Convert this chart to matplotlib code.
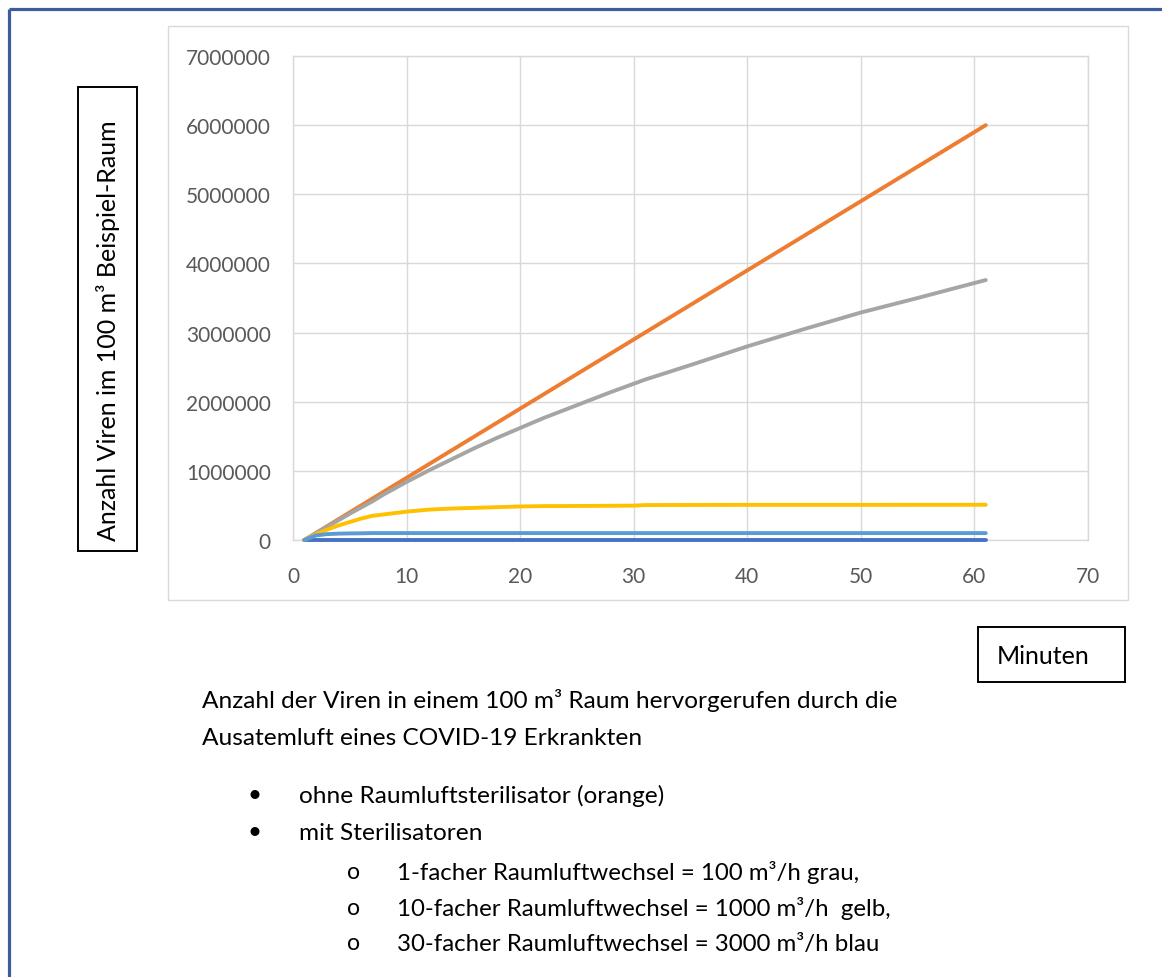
import matplotlib
matplotlib.use("Agg")
import matplotlib.pyplot as plt
from matplotlib.patches import Rectangle
from matplotlib.lines import Line2D
from matplotlib.ticker import FuncFormatter

plt.rcParams['font.family'] = ['Lato', 'DejaVu Sans']

# ---- data ----
minutes = [1, 2, 3, 4, 5, 6, 7, 8, 9, 10, 12, 14, 16, 18, 20, 22, 25, 28, 30, 31,
           35, 40, 45, 50, 55, 58, 61]
ohne = [0, 100000, 200000, 300000, 400000, 500000, 600000, 700000, 800000, 900000,
        1100000, 1300000, 1500000, 1700000, 1900000, 2100000, 2400000, 2700000,
        2900000, 3000000, 3400000, 3900000, 4400000, 4900000, 5400000, 5700000, 6000000]
grau_1fach = [0, 95000, 190000, 285000, 380000, 470000, 560000, 660000, 750000, 840000,
              1010000, 1170000, 1330000, 1480000, 1620000, 1760000, 1950000, 2140000,
              2260000, 2320000, 2530000, 2800000, 3050000, 3290000, 3500000, 3630000, 3760000]
gelb_10fach = [0, 80000, 150000, 210000, 260000, 310000, 350000, 370000, 390000, 410000,
               440000, 455000, 465000, 475000, 485000, 490000, 492000, 495000, 497000,
               505000, 507000, 508000, 508000, 508000, 509000, 509000, 510000]
hellblau_30fach = [0, 65000, 85000, 92000, 95000, 97000, 100000, 100000, 100000, 100000,
                   100000, 100000, 100000, 100000, 100000, 100000, 100000, 100000, 100000,
                   100000, 100000, 100000, 100000, 100000, 100000, 100000, 100000]
blau_basis = [0] * len(minutes)

x_ticks = [0, 10, 20, 30, 40, 50, 60, 70]
y_ticks = [0, 1000000, 2000000, 3000000, 4000000, 5000000, 6000000, 7000000]

series = [
    (blau_basis, '#4472C4'),
    (ohne, '#ED7D31'),
    (grau_1fach, '#A5A5A5'),
    (gelb_10fach, '#FFC000'),
    (hellblau_30fach, '#5B9BD5'),
]

W, H = 1162, 978
fig = plt.figure(figsize=(W / 100, H / 100), dpi=100)


def fx(px):
    return px / W


def fy(py):
    return 1 - py / H


# outer page frame (blue, left + top)
frame_col = '#3B5C9E'
fig.add_artist(Line2D([fx(8.5), fx(8.5)], [fy(9.5), fy(980)], transform=fig.transFigure,
                      color=frame_col, lw=2.3, solid_capstyle='butt'))
fig.add_artist(Line2D([fx(8.5), fx(1165)], [fy(9.5), fy(9.5)], transform=fig.transFigure,
                      color=frame_col, lw=2.3, solid_capstyle='butt'))

# chart area border
fig.add_artist(Rectangle((fx(168), fy(601)), fx(1128) - fx(168), fy(27) - fy(601),
                         transform=fig.transFigure, fill=False, ec='#D9D9D9', lw=1.0))

ax = fig.add_axes([fx(293), fy(541), fx(1088) - fx(293), fy(57) - fy(541)])
for i, (vals, col) in enumerate(series):
    ax.plot(minutes, vals, color=col, lw=2.8, solid_capstyle='round',
            solid_joinstyle='round', clip_on=False, zorder=3 + i)

ax.set_xlim(0, 70)
ax.set_ylim(0, 7000000)
ax.set_xticks(x_ticks)
ax.set_yticks(y_ticks)
ax.yaxis.set_major_formatter(FuncFormatter(lambda v, p: f"{int(round(v))}"))
ax.grid(True, color='#D9D9D9', lw=1.0)
ax.set_axisbelow(True)
for s in ax.spines.values():
    s.set_color('#D9D9D9')
    s.set_linewidth(1.0)
ax.tick_params(axis='both', length=0, labelsize=15, labelcolor='#595959')
ax.tick_params(axis='x', pad=19)
ax.tick_params(axis='y', pad=16)

# y label box
fig.add_artist(Rectangle((fx(78), fy(552)), fx(137) - fx(78), fy(88) - fy(552),
                         transform=fig.transFigure, fill=False, ec='black', lw=1.4))
fig.text(fx(108), fy(331), 'Anzahl Viren im 100 m³ Beispiel-Raum', rotation=90,
         ha='center', va='center', fontsize=18, color='black')

# x label box
fig.add_artist(Rectangle((fx(978), fy(683)), fx(1125) - fx(978), fy(628) - fy(683),
                         transform=fig.transFigure, fill=False, ec='black', lw=1.4))
fig.text(fx(1043), fy(657), 'Minuten', ha='center', va='center', fontsize=18,
         color='black')

# caption text
fs = 17.6
fig.text(fx(202), fy(701), 'Anzahl der Viren in einem 100 m³ Raum hervorgerufen durch die',
         ha='left', va='center', fontsize=fs)
fig.text(fx(202), fy(739), 'Ausatemluft eines COVID-19 Erkrankten',
         ha='left', va='center', fontsize=fs)
bul = [(796, 'ohne Raumluftsterilisator (orange)'), (833, 'mit Sterilisatoren')]
for yy, t in bul:
    fig.text(fx(254), fy(yy), '•', ha='center', va='center', fontsize=fs)
    fig.text(fx(299), fy(yy), t, ha='left', va='center', fontsize=fs)
sub = [(873, '1-facher Raumluftwechsel = 100 m³/h grau,'),
       (909, '10-facher Raumluftwechsel = 1000 m³/h  gelb,'),
       (944, '30-facher Raumluftwechsel = 3000 m³/h blau')]
for yy, t in sub:
    fig.text(fx(354), fy(yy), 'o', ha='center', va='center', fontsize=fs - 1)
    fig.text(fx(397), fy(yy), t, ha='left', va='center', fontsize=fs - 0.3)

fig.savefig('out.png', dpi=100)
